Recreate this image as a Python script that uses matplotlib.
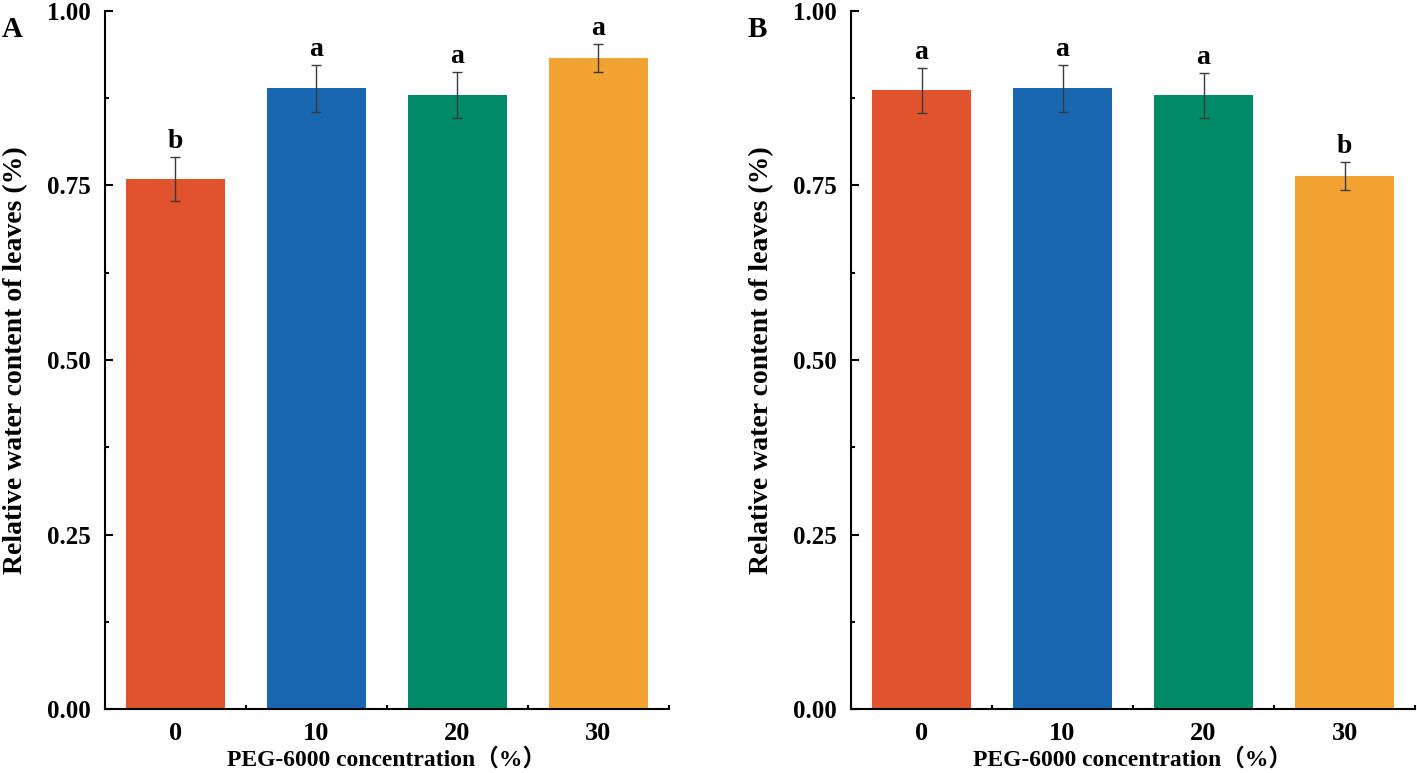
import matplotlib as mpl
mpl.use("Agg")
import matplotlib.pyplot as plt
import numpy as np

CATEGORIES = ["0", "10", "20", "30"]
COLORS = ["#E0532D", "#1967B0", "#008A68", "#F2A332"]

A_MEANS = [0.759, 0.889, 0.879, 0.932]
A_ERRS = [0.032, 0.034, 0.033, 0.020]
A_LETTERS = ["b", "a", "a", "a"]

B_MEANS = [0.886, 0.889, 0.879, 0.764]
B_ERRS = [0.032, 0.034, 0.032, 0.020]
B_LETTERS = ["a", "a", "a", "b"]

SERIF = ["Liberation Serif", "DejaVu Serif"]
plt.rcParams["font.family"] = SERIF
plt.rcParams["font.weight"] = "bold"


def draw_panel(ax, means, errs, letters, tag):
    x = np.arange(len(CATEGORIES))
    ax.bar(x, means, width=0.7, color=COLORS, zorder=2)
    ax.errorbar(x, means, yerr=errs, fmt="none", ecolor="#3a3a3a",
                elinewidth=1.0, capsize=3.5, capthick=1.0, zorder=3)
    for xi, m, e, lab in zip(x, means, errs, letters):
        ax.annotate(lab, (xi, m + e), xytext=(0, 2), textcoords="offset points",
                    ha="center", va="bottom", fontsize=20, fontweight="bold")

    ax.set_xlim(-0.5, len(CATEGORIES) - 0.5)
    ax.set_ylim(0, 1.0)
    ax.set_xticks(x)
    ax.set_xticklabels(CATEGORIES)
    ax.set_xticks(np.arange(-0.5, len(CATEGORIES), 1.0), minor=True)
    ax.set_yticks([0, 0.25, 0.5, 0.75, 1.0])
    ax.set_yticklabels(["0.00", "0.25", "0.50", "0.75", "1.00"])
    ax.set_yticks([0.125, 0.375, 0.625, 0.875], minor=True)

    for side in ("top", "right"):
        ax.spines[side].set_visible(False)
    for side in ("left", "bottom"):
        ax.spines[side].set_linewidth(1.5)

    ax.tick_params(which="both", direction="in", width=1.5)
    ax.tick_params(which="major", length=6)
    ax.tick_params(which="minor", length=3)
    ax.tick_params(axis="x", which="major", labelsize=19, pad=9)
    ax.tick_params(axis="y", which="major", labelsize=18, pad=10)

    ax.set_xlabel("PEG-6000 concentration（%）", fontsize=17, fontweight="bold",
                  family=SERIF + ["Noto Sans CJK SC"], va="top")
    ax.xaxis.set_label_coords(0.5, -0.055)
    ax.set_ylabel("Relative water content of leaves (%)", fontsize=20,
                  fontweight="bold")
    ax.yaxis.set_label_coords(-0.136, 0.5)
    ax.text(-0.183, 0.992, tag, transform=ax.transAxes, fontsize=21,
            fontweight="bold", ha="left", va="top")


fig = plt.figure(figsize=(14.17, 7.73), dpi=100)
ax_a = fig.add_axes([0.0741, 0.0824, 0.398, 0.9037])
ax_b = fig.add_axes([0.6006, 0.0824, 0.398, 0.9037])

draw_panel(ax_a, A_MEANS, A_ERRS, A_LETTERS, "A")
draw_panel(ax_b, B_MEANS, B_ERRS, B_LETTERS, "B")

fig.savefig("out.png", dpi=100)
plt.close(fig)
